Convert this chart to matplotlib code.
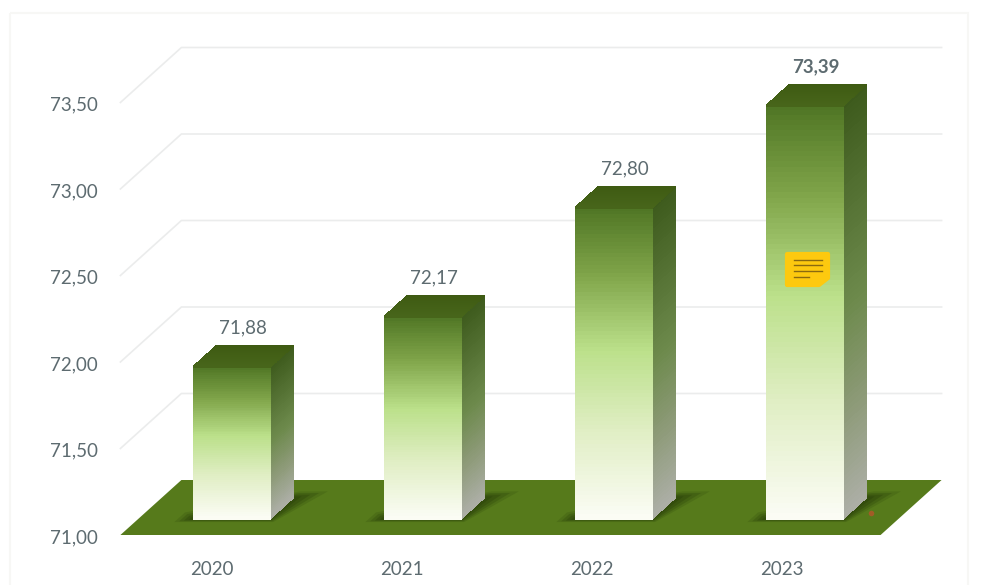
import numpy as np
import matplotlib
matplotlib.use("Agg")
import matplotlib.pyplot as plt
from matplotlib.colors import LinearSegmentedColormap
from matplotlib.patches import Polygon, Rectangle

annees = ["2020", "2021", "2022", "2023"]
valeurs = [71.88, 72.17, 72.80, 73.39]
etiquettes = ["71,88", "72,17", "72,80", "73,39"]
graduations = [71.0, 71.5, 72.0, 72.5, 73.0, 73.5]
etiquettes_y = ["71,00", "71,50", "72,00", "72,50", "73,00", "73,50"]

# echelle de la figure : pixels par categorie et par unite
PX_X = 191.0
PX_Y = 173.0
X0 = 214.0
Y0 = 535.0
# decalage du fond du plancher (profondeur 1)
DX = 61.0 / PX_X
DY = 55.0 / PX_Y
LARGEUR = 76.0 / PX_X
P_AVANT = 0.29
P_ARRIERE = 0.673

COUL_TEXTE = "#5d6b70"
TAILLE = 13.5
plt.rcParams["font.family"] = ["Lato", "DejaVu Sans"]

face_cmap = LinearSegmentedColormap.from_list(
    "face", [(0, "#4f7524"), (0.22, "#80a54a"), (0.46, "#bbe08a"), (0.72, "#e0eec4"), (1, "#fbfcf5")])
cote_cmap = LinearSegmentedColormap.from_list(
    "cote", [(0, "#3d5a1c"), (0.5, "#6d8a4c"), (0.75, "#8d9a78"), (1, "#acaea6")])
dessus_cmap = LinearSegmentedColormap.from_list("dessus", [(0, "#3e5a12"), (1, "#47651a")])


def proj(x, v, p=0.0):
    return x + p * DX, v + p * DY


def remplir(ax, coins, cmap, zorder):
    # coins : haut-gauche, haut-droit, bas-droit, bas-gauche
    t = np.linspace(0, 1, 81)[:, None]
    c = np.array(coins, dtype=float)
    xg = c[0, 0] + t * (c[3, 0] - c[0, 0])
    yg = c[0, 1] + t * (c[3, 1] - c[0, 1])
    xd = c[1, 0] + t * (c[2, 0] - c[1, 0])
    yd = c[1, 1] + t * (c[2, 1] - c[1, 1])
    X = np.hstack([xg, xd])
    Y = np.hstack([yg, yd])
    C = ((t[:-1] + t[1:]) / 2)
    ax.pcolormesh(X, Y, C, cmap=cmap, vmin=0, vmax=1, shading="flat",
                  edgecolors="face", linewidth=0.2, zorder=zorder)


fig = plt.figure(figsize=(9.81, 5.85), dpi=100)
ax = fig.add_axes([0, 0, 1, 1])
ax.set_xlim(-X0 / PX_X, (981 - X0) / PX_X)
ax.set_ylim(71 - (585 - Y0) / PX_Y, 71 + Y0 / PX_Y)
ax.axis("off")

x_min, x_max = -0.49, 3.49

# grille : mur du fond et mur de gauche
for g in graduations[1:]:
    xa, ya = proj(x_min, g, 0)
    xb, yb = proj(x_min, g, 1)
    xc, yc = proj(x_max, g, 1)
    ax.plot([xa, xb, xc], [ya, yb, yc], color="#ebecec", lw=1.2, zorder=1)

# plancher
plancher = [proj(x_min, 71, 0), proj(x_max, 71, 0), proj(x_max, 71, 1), proj(x_min, 71, 1)]
ax.add_patch(Polygon(plancher, closed=True, facecolor="#567a1b", edgecolor="none", zorder=2))

for i, v in enumerate(valeurs):
    g = i - LARGEUR / 2
    d = i + LARGEUR / 2

    # ombre au pied de la barre
    for marge, alpha in [(0.12, 0.2), (0.09, 0.28), (0.06, 0.36), (0.03, 0.45)]:
        ombre = [proj(g - marge * 0.7, 71, P_AVANT - marge * 0.45), proj(d + marge * 0.3, 71, P_AVANT - marge * 0.45),
                 proj(d + marge * 1.2, 71, P_ARRIERE + marge), proj(d, 71, P_ARRIERE + marge),
                 proj(g - marge * 0.7, 71, P_AVANT + marge)]
        ax.add_patch(Polygon(ombre, closed=True, facecolor="#2b430a", alpha=alpha,
                             edgecolor="none", zorder=3))

    # faces de la barre
    remplir(ax, [proj(g, v, P_AVANT), proj(d, v, P_AVANT), proj(d, 71, P_AVANT), proj(g, 71, P_AVANT)],
            face_cmap, 5)
    remplir(ax, [proj(d, v, P_AVANT), proj(d, v, P_ARRIERE), proj(d, 71, P_ARRIERE), proj(d, 71, P_AVANT)],
            cote_cmap, 4)
    remplir(ax, [proj(g, v, P_ARRIERE), proj(d, v, P_ARRIERE), proj(d, v, P_AVANT), proj(g, v, P_AVANT)],
            dessus_cmap, 5)

    # valeur au-dessus de la barre
    xt, yt = proj(i, v, P_ARRIERE)
    ax.text(xt - 0.065, yt + 18 / PX_Y, etiquettes[i], ha="center", va="center", fontsize=TAILLE,
            color=COUL_TEXTE, fontweight="bold" if i == 3 else "normal", zorder=6)
    ax.text(i * 190 / 191 - 0.01, 71 - 35 / PX_Y, annees[i], ha="center", va="center", fontsize=TAILLE,
            color=COUL_TEXTE, zorder=6)

for g, lab in zip(graduations, etiquettes_y):
    ax.text(x_min - 0.118, g - 2.5 / PX_Y, lab, ha="right", va="center", fontsize=TAILLE,
            color=COUL_TEXTE, zorder=6)

# calque en pixels : cadre, note et petite marque
deco = fig.add_axes([0, 0, 1, 1], facecolor="none")
deco.set_xlim(0, 981)
deco.set_ylim(585, 0)
deco.axis("off")
deco.add_patch(Rectangle((10, 13), 958, 600, fill=False, edgecolor="#f7f7f5", lw=1.5))
deco.add_patch(Polygon([(787, 254), (828, 254), (828, 278), (819, 285), (787, 285)], closed=True,
                       facecolor="#fdc90f", edgecolor="#fdc90f", lw=3, joinstyle="round"))
for yl, xf in [(260, 822), (265, 822), (271, 822), (277, 809)]:
    deco.plot([794, xf], [yl, yl], color="#8a6a10", lw=1.0)
deco.plot([871], [513], marker="o", ms=4, color="#b5552a", alpha=0.8, mec="none")

fig.savefig("out.png", dpi=100)
